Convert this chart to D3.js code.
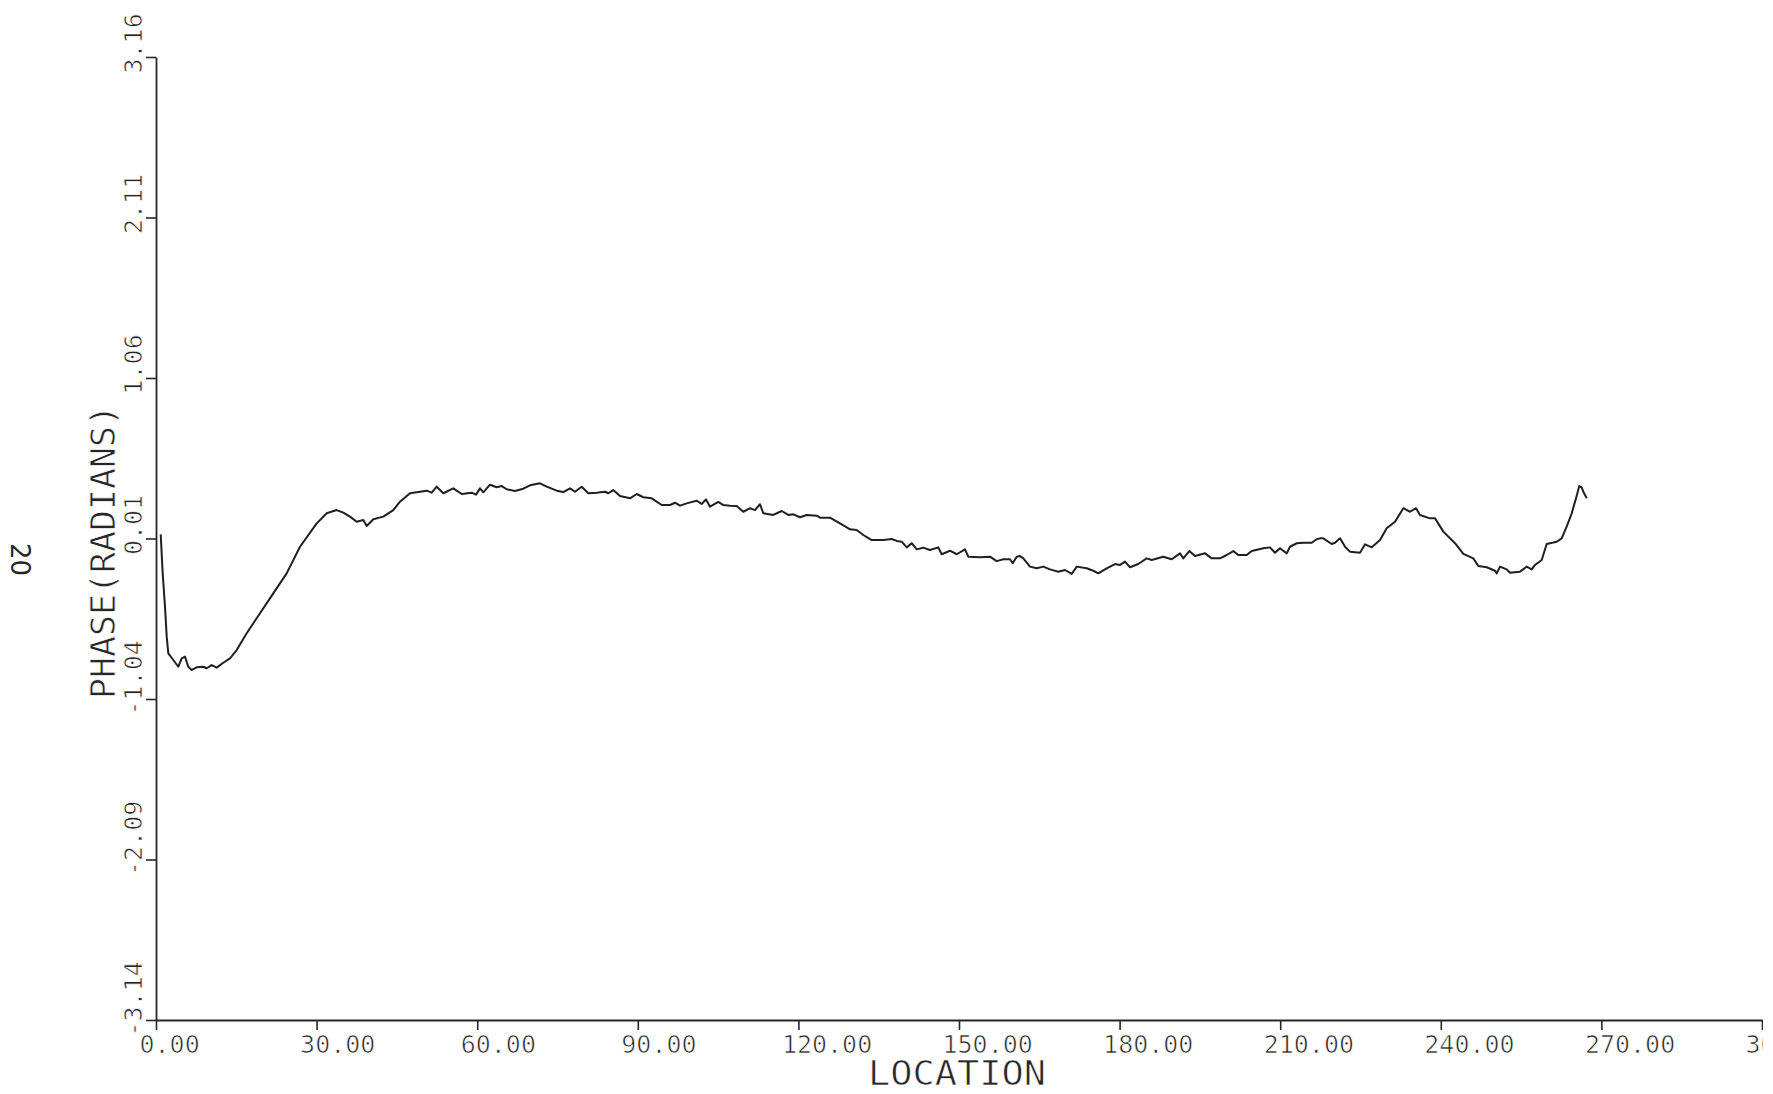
<!DOCTYPE html>
<html>
<head>
<meta charset="utf-8">
<script src="https://cdn.jsdelivr.net/npm/d3@7"></script>
<style>
  html, body { margin: 0; padding: 0; background: #ffffff; }
  svg { display: block; }
  text { font-family: "DejaVu Sans Mono", "Liberation Mono", monospace; fill: #262626; }
  /* thin the glyph strokes a little, like pen-plotter lettering */
  .pen { stroke: #ffffff; stroke-width: 0.7px; paint-order: normal; }
</style>
</head>
<body>
<svg id="chart" width="1763" height="1094"></svg>
<script>
// Phase profile along the sample (radians vs. location)
const location_ = [0.88,1.25,1.68,2.00,2.30,3.23,4.17,4.80,5.42,6.03,6.67,7.60,8.84,9.47,10.40,11.34,12.57,13.82,15.07,16.94,19.43,21.91,24.41,26.90,30.02,31.89,33.75,34.99,36.24,37.49,38.72,39.36,40.59,42.46,44.33,45.58,47.45,50.57,51.50,52.43,53.67,
  55.54,57.11,58.97,59.78,60.52,61.14,62.39,63.64,64.58,65.51,67.06,68.61,69.86,71.73,72.98,74.85,76.08,77.34,78.27,79.52,80.76,82.32,83.87,84.49,85.42,86.68,88.54,89.80,91.03,92.60,94.47,96.02,96.95,97.88,99.13,101.00,101.94,102.74,103.49,105.04,105.97,107.22,
  108.47,109.71,110.96,111.89,112.83,113.44,115.31,116.88,118.11,119.05,120.30,121.55,123.42,124.03,125.90,127.77,129.64,130.89,132.13,133.69,135.86,137.43,138.36,139.30,140.23,141.17,142.10,143.33,144.58,146.13,146.77,148.32,149.57,151.12,151.74,153.92,155.79,157.04,158.28,159.53,160.03,160.78,161.40,
  162.01,163.26,164.51,165.75,167.00,168.55,169.80,171.05,171.99,173.85,175.09,176.02,177.59,179.14,180.08,181.01,181.94,183.49,185.06,186.00,188.16,189.73,191.28,191.90,193.02,194.09,195.95,197.21,198.76,200.01,201.24,202.18,203.75,204.68,206.85,208.10,209.03,209.96,211.22,211.83,213.09,214.32,215.88,216.82,217.44,
  218.05,219.62,220.24,221.18,222.11,223.04,224.91,225.85,227.10,228.65,229.89,231.45,233.00,234.25,235.37,236.12,237.98,238.92,240.47,242.65,244.21,246.07,247.01,248.58,250.13,250.45,251.06,252.31,252.93,254.80,256.05,256.98,257.60,258.85,259.78,261.65,262.58,263.51,264.45,265.26,265.87,266.32,266.62,267.26];

const phase = [0.037,-0.218,-0.436,-0.632,-0.741,-0.785,-0.829,-0.774,-0.763,-0.829,-0.850,-0.833,-0.829,-0.839,-0.818,-0.835,-0.803,-0.774,-0.720,-0.610,-0.479,-0.349,-0.218,-0.044,0.109,0.175,0.196,0.179,0.153,0.120,0.131,0.092,0.136,0.153,0.196,0.251,0.306,0.323,0.310,0.349,0.306,
  0.338,0.301,0.310,0.297,0.338,0.312,0.362,0.345,0.353,0.332,0.321,0.336,0.358,0.371,0.349,0.323,0.314,0.338,0.316,0.349,0.306,0.310,0.316,0.306,0.327,0.288,0.273,0.301,0.280,0.273,0.229,0.229,0.244,0.225,0.240,0.257,0.236,0.266,0.218,0.249,0.229,0.225,
  0.223,0.185,0.208,0.196,0.234,0.175,0.164,0.190,0.164,0.168,0.149,0.164,0.159,0.146,0.146,0.109,0.070,0.066,0.033,0.000,0.000,0.007,-0.006,-0.011,-0.048,-0.021,-0.061,-0.050,-0.065,-0.048,-0.093,-0.070,-0.093,-0.061,-0.109,-0.113,-0.109,-0.138,-0.126,-0.126,-0.152,-0.109,-0.105,
  -0.120,-0.174,-0.185,-0.174,-0.192,-0.207,-0.196,-0.222,-0.174,-0.185,-0.201,-0.218,-0.185,-0.157,-0.163,-0.141,-0.178,-0.157,-0.120,-0.131,-0.109,-0.126,-0.087,-0.120,-0.072,-0.105,-0.087,-0.120,-0.120,-0.098,-0.072,-0.098,-0.098,-0.072,-0.054,-0.048,-0.083,-0.054,-0.087,-0.044,-0.021,-0.018,-0.018,0.005,0.011,
  0.011,-0.026,-0.018,0.011,-0.044,-0.076,-0.083,-0.028,-0.048,0.000,0.077,0.120,0.208,0.185,0.208,0.164,0.142,0.142,0.055,-0.021,-0.091,-0.120,-0.170,-0.178,-0.201,-0.218,-0.174,-0.192,-0.214,-0.207,-0.174,-0.192,-0.163,-0.131,-0.026,-0.011,0.011,0.087,0.175,0.273,0.353,0.345,0.316,0.273];

// Axis ticks
const xTicks = [0, 30, 60, 90, 120, 150, 180, 210, 240, 270, 300];
const yTicks = [-3.14, -2.09, -1.04, 0.01, 1.06, 2.11, 3.16];

const xTitle = "LOCATION";
const yTitle = "PHASE(RADIANS)";
const pageNumber = "20";

const svg = d3.select("#chart");

const x = d3.scaleLinear().domain([0, 300]).range([156, 1762]);
const y = d3.scaleLinear().domain([-3.14, 3.16]).range([1020, 57]);

const fmt = d => d.toFixed(2);

// Bottom axis: ticks point down, labels start one character left of the tick
const gx = svg.append("g")
  .attr("transform", `translate(0,${y(-3.14)})`)
  .call(d3.axisBottom(x).tickValues(xTicks).tickFormat(fmt).tickSize(10).tickSizeOuter(0));
gx.select(".domain").attr("stroke", "#262626").attr("stroke-width", 1.8);
gx.selectAll(".tick line").attr("stroke", "#262626").attr("stroke-width", 1.6);
gx.selectAll(".tick text")
  .attr("class", "pen")
  .attr("x", -17).attr("y", 33).attr("dy", null)
  .attr("text-anchor", "start")
  .style("font-size", "25px")
  .attr("fill", "#262626");

// Left axis: ticks point left, labels rotated to read upward
const gy = svg.append("g")
  .attr("transform", `translate(${x(0)},0)`)
  .call(d3.axisLeft(y).tickValues(yTicks).tickFormat(fmt).tickSize(10).tickSizeOuter(0));
gy.select(".domain").attr("stroke", "#262626").attr("stroke-width", 1.8);
gy.selectAll(".tick line").attr("stroke", "#262626").attr("stroke-width", 1.6);
gy.selectAll(".tick text")
  .attr("class", "pen")
  .attr("x", null).attr("y", null).attr("dy", null)
  .attr("text-anchor", "start")
  .attr("transform", "translate(-14,16) rotate(-90)")
  .style("font-size", "25px")
  .attr("fill", "#262626");

// Axis titles
svg.append("text")
  .attr("class", "pen")
  .attr("x", 868).attr("y", 1085)
  .attr("textLength", 178).attr("lengthAdjust", "spacingAndGlyphs")
  .style("font-size", "34px")
  .text(xTitle);

svg.append("text")
  .attr("class", "pen")
  .attr("transform", "translate(115,699) rotate(-90)")
  .attr("textLength", 294).attr("lengthAdjust", "spacingAndGlyphs")
  .style("font-size", "34px")
  .text(yTitle);

// Page number, printed sideways at the left margin
svg.append("text")
  .attr("transform", "translate(11,543) rotate(90)")
  .style("font-family", "'DejaVu Sans', sans-serif")
  .style("font-size", "26px")
  .attr("fill", "#333")
  .text(pageNumber);

// Phase trace
const pts = location_.map((l, i) => [l, phase[i]]);
svg.append("path")
  .datum(pts)
  .attr("fill", "none")
  .attr("stroke", "#1f1f1f")
  .attr("stroke-width", 2)
  .attr("stroke-linejoin", "round")
  .attr("d", d3.line().x(d => x(d[0])).y(d => y(d[1])));
</script>
</body>
</html>
